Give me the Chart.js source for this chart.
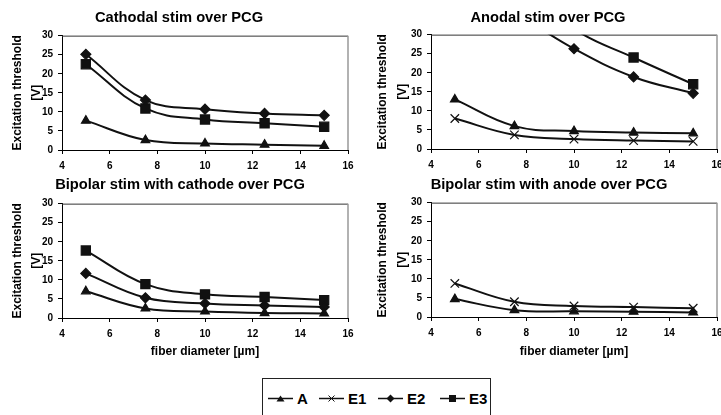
<!DOCTYPE html>
<html>
<head>
<meta charset="utf-8">
<script src="https://cdn.jsdelivr.net/npm/chart.js@4.4.0/dist/chart.umd.min.js"></script>
<style>
  html, body { margin: 0; padding: 0; background: #fff; overflow: hidden; width: 721px; height: 415px; }
  canvas { position: absolute; }
  #legend {
    position: absolute; left: 262px; top: 378px; width: 229px; height: 50px;
    border: 1.5px solid #222; box-sizing: border-box;
    font-family: "Liberation Sans", Arial, sans-serif; font-weight: bold; font-size: 15px; color: #000;
  }
  #legend .item { position: absolute; top: 11px; display: flex; align-items: center; }
  #legend svg { margin-right: 4px; }
</style>
</head>
<body>
<canvas id="c1" width="360" height="170" style="left:0;top:0"></canvas>
<canvas id="c2" width="374" height="170" style="left:360px;top:0"></canvas>
<canvas id="c3" width="360" height="200" style="left:0;top:170px"></canvas>
<canvas id="c4" width="374" height="200" style="left:360px;top:170px"></canvas>
<div id="legend"></div>
<script>
// fibre diameters (x) and thresholds (y)
var diameters = [5, 7.5, 10, 12.5, 15];
var xTicks = [4, 6, 8, 10, 12, 14, 16];
var yTicks = [0, 5, 10, 15, 20, 25, 30];

var cathA  = [7.7, 2.6, 1.7, 1.4, 1.1];
var cathE2 = [25.1, 13.1, 10.7, 9.6, 9.1];
var cathE3 = [22.5, 10.9, 8.0, 7.0, 6.1];

var anodA  = [13.0, 6.0, 4.7, 4.3, 4.1];
var anodE1 = [8.0, 3.7, 2.6, 2.2, 2.0];
var anodE2 = [null, 36, 26.3, 18.9, 14.6];
var anodE3 = [null, 45, 31.5, 24.0, 17.0];

var bipCathA  = [7.0, 2.5, 1.7, 1.3, 1.2];
var bipCathE2 = [11.7, 5.3, 3.8, 3.3, 2.9];
var bipCathE3 = [17.7, 8.9, 6.2, 5.5, 4.7];

var bipAnodA  = [4.7, 1.8, 1.5, 1.4, 1.2];
var bipAnodE1 = [8.8, 4.0, 2.9, 2.6, 2.3];

var FONT = '"Liberation Sans", Arial, sans-serif';
var styles = {
    A:  { pointStyle: 'triangle', radius: 5 },
    E1: { pointStyle: 'crossRot', radius: 6 },
    E2: { pointStyle: 'rectRot', radius: 5 },
    E3: { pointStyle: 'rect', radius: 6.5 }
};

function series(name, values) {
    var st = styles[name];
    return {
        label: name,
        data: diameters.map(function (d, i) { return { x: d, y: values[i] }; }),
        borderColor: '#111',
        backgroundColor: '#111',
        borderWidth: 2,
        tension: 0.4,
        pointStyle: st.pointStyle,
        pointRadius: st.radius,
        pointBorderWidth: 1.2,
        pointBorderColor: '#111',
        pointBackgroundColor: '#111'
    };
}

// frame on top/right of the plot area
var framePlugin = {
    id: 'frame',
    beforeDatasetsDraw: function (chart) {
        var a = chart.chartArea, ctx = chart.ctx;
        ctx.save();
        ctx.strokeStyle = '#333';
        ctx.lineWidth = 1;
        ctx.beginPath();
        ctx.moveTo(a.left, a.top + 0.5);
        ctx.lineTo(a.right, a.top + 0.5);
        ctx.stroke();
        ctx.strokeStyle = '#999';
        ctx.lineWidth = 1.5;
        ctx.beginPath();
        ctx.moveTo(a.right, a.top);
        ctx.lineTo(a.right, a.bottom);
        ctx.stroke();
        ctx.restore();
    }
};

function makeChart(id, title, datasets, cfg) {
    return new Chart(document.getElementById(id).getContext('2d'), {
        type: 'line',
        data: { datasets: datasets },
        plugins: [framePlugin],
        options: {
            responsive: false,
            animation: false,
            devicePixelRatio: 1,
            layout: { padding: { left: cfg.padLeft, right: cfg.padRight, top: 0, bottom: 0 } },
            plugins: {
                legend: { display: false },
                tooltip: { enabled: false },
                title: {
                    display: true,
                    text: title,
                    color: '#000',
                    font: { family: FONT, size: 14.7, weight: 'bold' },
                    padding: { top: cfg.titleTop, bottom: cfg.titleBottom }
                }
            },
            scales: {
                x: {
                    type: 'linear',
                    min: 4, max: 16,
                    afterBuildTicks: function (s) { s.ticks = xTicks.map(function (v) { return { value: v }; }); },
                    afterFit: function (s) { s.height = cfg.xHeight; },
                    grid: { drawOnChartArea: false, drawTicks: true, tickLength: 4, tickColor: '#000' },
                    border: { color: '#000', width: 1 },
                    ticks: { color: '#000', padding: 6, maxRotation: 0, font: { family: FONT, size: 10, weight: 'bold' } },
                    title: {
                        display: cfg.xTitle,
                        text: 'fiber diameter [µm]',
                        color: '#000',
                        font: { family: FONT, size: 12, weight: 'bold' },
                        padding: { top: 0, bottom: 11.5 }
                    }
                },
                y: {
                    min: 0, max: 30,
                    afterBuildTicks: function (s) { s.ticks = yTicks.map(function (v) { return { value: v }; }); },
                    afterFit: function (s) { s.width = cfg.yWidth; },
                    grid: { drawOnChartArea: false, drawTicks: true, tickLength: 4, tickColor: '#000' },
                    border: { color: '#000', width: 1 },
                    ticks: { color: '#000', padding: 5, font: { family: FONT, size: 10, weight: 'bold' } },
                    title: {
                        display: true,
                        text: ['Excitation threshold', '[V]'],
                        color: '#000',
                        font: { family: FONT, size: 12, weight: 'bold', lineHeight: 1.62 },
                        padding: { top: cfg.yTitlePad, bottom: 0 }
                    }
                }
            }
        }
    });
}

makeChart('c1', 'Cathodal stim over PCG',
    [series('A', cathA), series('E2', cathE2), series('E3', cathE3)],
    { padLeft: 10, padRight: 12, titleTop: 9, titleBottom: 9, xHeight: 20, yWidth: 52, yTitlePad: -2.2, xTitle: false });

makeChart('c2', 'Anodal stim over PCG',
    [series('A', anodA), series('E1', anodE1), series('E2', anodE2), series('E3', anodE3)],
    { padLeft: 19, padRight: 17, titleTop: 9, titleBottom: 8, xHeight: 21, yWidth: 52, yTitlePad: -5.7, xTitle: false });

makeChart('c3', 'Bipolar stim with cathode over PCG',
    [series('A', bipCathA), series('E2', bipCathE2), series('E3', bipCathE3)],
    { padLeft: 12, padRight: 12, titleTop: 6, titleBottom: 10, xHeight: 52, yWidth: 50, yTitlePad: -4.2, xTitle: true });

makeChart('c4', 'Bipolar stim with anode over PCG',
    [series('A', bipAnodA), series('E1', bipAnodE1)],
    { padLeft: 21, padRight: 17, titleTop: 6, titleBottom: 9, xHeight: 53, yWidth: 50, yTitlePad: -7.7, xTitle: true });

// legend
var legendNames = ['A', 'E1', 'E2', 'E3'];
var legendLeft = [5, 56, 115, 177];
var icons = {
    A:  '<polygon points="12.5,1.5 16.5,7.5 8.5,7.5" fill="#111"/>',
    E1: '<path d="M9.5,1.5 L15.5,7.5 M15.5,1.5 L9.5,7.5" stroke="#111" stroke-width="1"/>',
    E2: '<polygon points="12.5,0.5 16.5,4.5 12.5,8.5 8.5,4.5" fill="#111"/>',
    E3: '<rect x="9" y="1" width="7" height="7" fill="#111"/>'
};
var legend = document.getElementById('legend');
legendNames.forEach(function (name, i) {
    var item = document.createElement('div');
    item.className = 'item';
    item.style.left = legendLeft[i] + 'px';
    item.innerHTML = '<svg width="25" height="9"><line x1="0" y1="4.5" x2="25" y2="4.5" stroke="#111" stroke-width="1.5"/>' +
        icons[name] + '</svg><span>' + name + '</span>';
    legend.appendChild(item);
});
</script>
</body>
</html>
